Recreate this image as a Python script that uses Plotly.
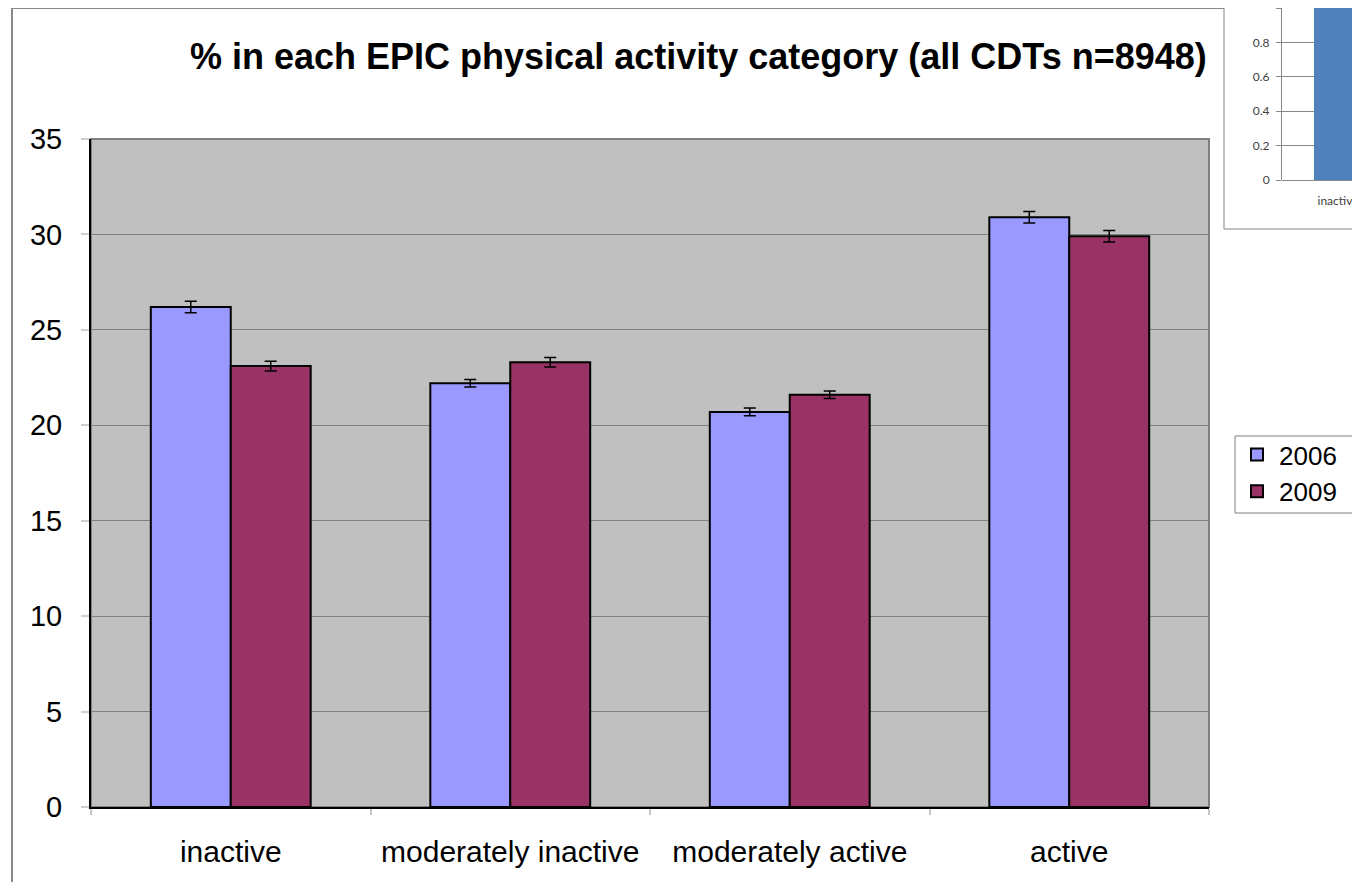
import plotly.graph_objects as go

# page body has an 8px margin, so the figure is drawn smaller and shifted
OFF = 8
W, H = 1360 - OFF, 882 - OFF

# ---- data ----
categories = ["inactive", "moderately inactive", "moderately active", "active"]
values_2006 = [26.2, 22.2, 20.7, 30.9]
values_2009 = [23.1, 23.3, 21.6, 29.9]
err_2006 = [0.3, 0.2, 0.2, 0.3]
err_2009 = [0.25, 0.25, 0.2, 0.3]
series_names = ["2006", "2009"]

inset_categories = ["inactive"]
inset_values = [1]

title_text = "% in each EPIC physical activity category (all CDTs n=8948)"

FONT = "Liberation Sans, Arial, sans-serif"
INSET_FONT = "Lato, Open Sans, sans-serif"


def px_x(p):
    return (p - OFF) / W


def px_y(p):
    return 1 - (p - OFF) / H


def clamp(v):
    return max(0.0, min(1.0, v))


fig = go.Figure()

fig.add_trace(go.Bar(
    x=categories, y=values_2006, name=series_names[0],
    marker=dict(color="#9999FF", line=dict(color="#000000", width=2)),
    error_y=dict(type="data", array=err_2006, visible=True, color="#000000", thickness=1.5, width=6),
    xaxis="x", yaxis="y",
))
fig.add_trace(go.Bar(
    x=categories, y=values_2009, name=series_names[1],
    marker=dict(color="#993366", line=dict(color="#000000", width=2)),
    error_y=dict(type="data", array=err_2009, visible=True, color="#000000", thickness=1.5, width=6),
    xaxis="x", yaxis="y",
))

# inset (partially visible chart at top right)
fig.add_trace(go.Bar(
    x=inset_categories, y=inset_values, name="inset",
    marker=dict(color="#4F81BD", line=dict(width=0)),
    width=0.43, showlegend=False,
    xaxis="x2", yaxis="y2",
))

shapes = [
    # main plot area background + gray border
    dict(type="rect", xref="x domain", yref="y domain", x0=0, x1=1, y0=0, y1=1,
         fillcolor="#C0C0C0", line=dict(color="#808080", width=2), layer="below"),
    # outer chart frame (left & top)
    dict(type="line", xref="paper", yref="paper", x0=px_x(12), x1=px_x(12), y0=px_y(8), y1=px_y(900),
         line=dict(color="#8A8A8A", width=2), layer="below"),
    dict(type="line", xref="paper", yref="paper", x0=px_x(12), x1=px_x(1224), y0=px_y(8), y1=px_y(8),
         line=dict(color="#8A8A8A", width=2), layer="below"),
    # inset frame
    dict(type="rect", xref="paper", yref="paper", x0=px_x(1224), x1=px_x(1380), y0=px_y(229), y1=px_y(-10),
         fillcolor="#FFFFFF", line=dict(color="#868686", width=1), layer="below"),
    # legend box (extends past the right edge)
    dict(type="rect", xref="paper", yref="paper", x0=px_x(1235), x1=px_x(1380), y0=px_y(513), y1=px_y(436),
         fillcolor="#FFFFFF", line=dict(color="#808080", width=1), layer="below"),
]

annotations = [
    dict(text="<b>" + title_text + "</b>", x=px_x(698), y=px_y(57),
         xref="paper", yref="paper", xanchor="center", yanchor="middle", showarrow=False,
         font=dict(family=FONT, size=36, color="#000000")),
]

fig.update_layout(
    width=W, height=H,
    margin=dict(l=0, r=0, t=0, b=0, pad=0),
    paper_bgcolor="#FFFFFF",
    plot_bgcolor="rgba(0,0,0,0)",
    barmode="group",
    bargap=0.428,
    bargroupgap=0,
    font=dict(family=FONT, color="#000000"),
    xaxis=dict(
        domain=[clamp(px_x(91)), clamp(px_x(1209))],
        type="category",
        automargin=False,
        showline=True, linecolor="#000000", linewidth=2,
        showgrid=False, zeroline=False,
        ticks="outside", tickson="boundaries", ticklen=6, tickcolor="#C8C8C8", tickwidth=2,
        tickfont=dict(family=FONT, size=30, color="#000000"),
        ticklabelstandoff=17,
        fixedrange=True,
    ),
    yaxis=dict(
        domain=[clamp(px_y(807)), clamp(px_y(139))],
        range=[0, 35], dtick=5,
        automargin=False,
        showline=True, linecolor="#000000", linewidth=2,
        showgrid=True, gridcolor="#808080", gridwidth=1,
        zeroline=False,
        ticks="outside", ticklen=8, tickcolor="#D0D0D0", tickwidth=2,
        tickfont=dict(family=FONT, size=29, color="#000000"),
        ticklabelstandoff=13,
        fixedrange=True,
    ),
    xaxis2=dict(
        domain=[clamp(px_x(1282)), 1.0],
        anchor="y2",
        type="category",
        automargin=False,
        range=[-0.5, 0.196],
        showline=False, showgrid=False, zeroline=False,
        ticks="", tickfont=dict(family=INSET_FONT, size=12, color="#404040"),
        ticklabelstandoff=12,
        fixedrange=True,
    ),
    yaxis2=dict(
        domain=[clamp(px_y(180)), clamp(px_y(8))],
        anchor="x2",
        automargin=False,
        range=[0, 1], dtick=0.2,
        showline=True, linecolor="#868686", linewidth=1,
        showgrid=True, gridcolor="#868686", gridwidth=1,
        zeroline=True, zerolinecolor="#868686", zerolinewidth=1,
        ticks="outside", ticklen=5, tickcolor="#868686",
        tickfont=dict(family=INSET_FONT, size=12, color="#404040"),
        ticklabelstandoff=4,
        fixedrange=True,
    ),
    legend=dict(
        x=clamp(px_x(1235)), y=clamp(px_y(431)), xanchor="left", yanchor="top",
        bgcolor="rgba(0,0,0,0)", borderwidth=0,
        font=dict(family=FONT, size=26, color="#000000"),
        tracegroupgap=0, itemwidth=34,
    ),
    shapes=shapes,
    annotations=annotations,
    showlegend=True,
)

fig.write_html("out.html")
